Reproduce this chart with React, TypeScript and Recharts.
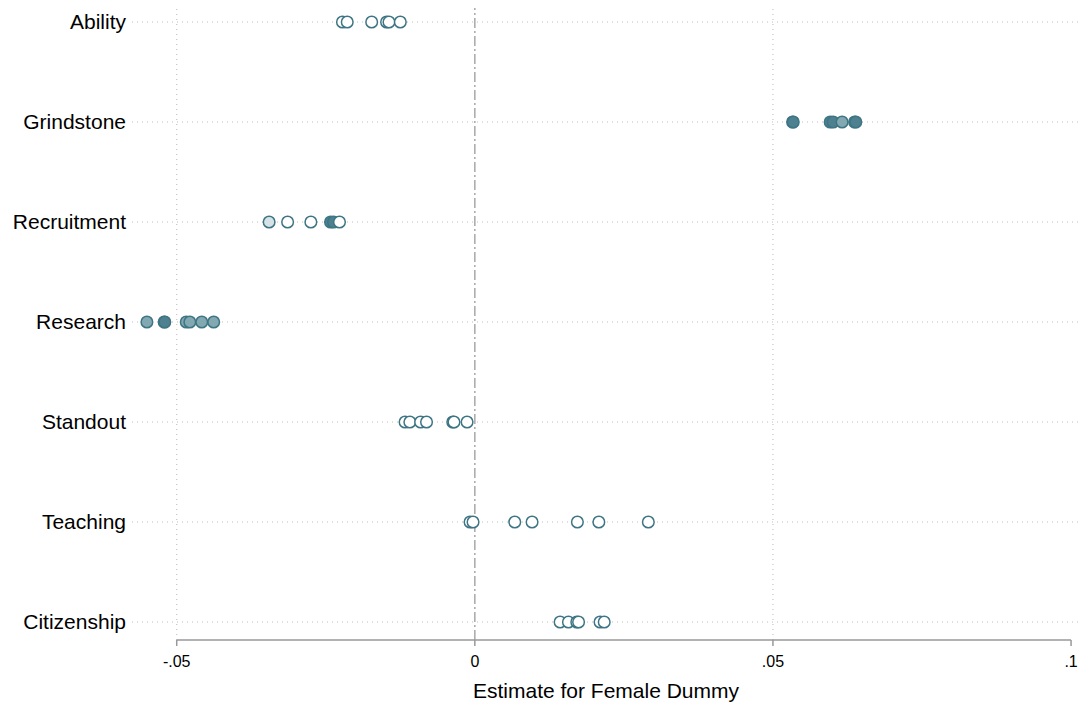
import { ReferenceLine, Scatter, ScatterChart, XAxis, YAxis } from "recharts";

const categories = ["Ability", "Grindstone", "Recruitment", "Research", "Standout", "Teaching", "Citizenship"];

// estimates per outcome, and shading level (0 = hollow .. 3 = darkest)
const ability = [-0.0222, -0.0214, -0.0173, -0.0148, -0.0144, -0.0125];
const abilityLevel = [0, 0, 0, 0, 0, 0];
const grindstone = [0.0533, 0.0534, 0.0596, 0.0601, 0.0616, 0.0637, 0.0639];
const grindstoneLevel = [3, 3, 3, 3, 2, 3, 3];
const recruitment = [-0.0345, -0.0314, -0.0275, -0.0242, -0.0237, -0.0227];
const recruitmentLevel = [1, 0, 0, 3, 3, 0];
const research = [-0.055, -0.0521, -0.052, -0.0484, -0.0478, -0.0458, -0.0438];
const researchLevel = [2, 3, 3, 2, 2, 2, 2];
const standout = [-0.0117, -0.0109, -0.0091, -0.0081, -0.0037, -0.0035, -0.0013];
const standoutLevel = [0, 0, 0, 0, 0, 0, 0];
const teaching = [-0.0008, -0.0003, 0.0067, 0.0096, 0.0172, 0.0208, 0.0291];
const teachingLevel = [0, 0, 0, 0, 0, 0, 0];
const citizenship = [0.0143, 0.0157, 0.0171, 0.0174, 0.021, 0.0217];
const citizenshipLevel = [0, 0, 0, 0, 0, 0];

const xTicks = [-0.05, 0, 0.05, 0.1];
const xTickLabels = ["-.05", "0", ".05", ".1"];
const xGrid = [-0.05, 0.05];
const levelFills = ["#ffffff", "#d5e3e7", "#82a8b1", "#4e8190"];

const estimates = [ability, grindstone, recruitment, research, standout, teaching, citizenship];
const levels = [abilityLevel, grindstoneLevel, recruitmentLevel, researchLevel, standoutLevel, teachingLevel, citizenshipLevel];
const yTicks = categories.map((_, i) => i);

const points = estimates.flatMap((vals, i) =>
  vals.map((x, j) => ({ x, y: categories.length - 1 - i, level: levels[i][j] })),
);

const FONT = "'Liberation Sans', Arial, Helvetica, sans-serif";
const Y_MIN = -0.18;

function Dot(props: any) {
  const { cx, cy, payload } = props;
  if (cx == null || cy == null) return null;
  return (
    <circle cx={cx} cy={cy} r={5.8} fill={levelFills[payload.level]} stroke="#3e7584" strokeWidth={1.5} />
  );
}

export default function App() {
  return (
    <div style={{ position: "absolute", left: 0, top: 0, background: "#fff", fontFamily: FONT }}>
      <ScatterChart width={1083} height={710} margin={{ top: 8, right: 3, bottom: 0, left: 0 }}>
        <XAxis
          type="number"
          dataKey="x"
          domain={[-0.0575, 0.1015]}
          ticks={xTicks}
          allowDataOverflow
          axisLine={false}
          tickLine={{ stroke: "#999", strokeWidth: 1.5 }}
          tickSize={6}
          tickMargin={10}
          tick={{ fontSize: 16, fill: "#000", fontFamily: FONT }}
          tickFormatter={(v: number) => xTickLabels[xTicks.indexOf(v)] ?? String(v)}
          height={70}
          label={{ value: "Estimate for Female Dummy", position: "insideBottom", offset: 12, fontSize: 21, fill: "#000", fontFamily: FONT }}
        />
        <YAxis
          type="number"
          dataKey="y"
          domain={[Y_MIN, 6.14]}
          ticks={yTicks}
          allowDataOverflow
          axisLine={false}
          tickLine={false}
          tickSize={0}
          tickMargin={6}
          width={132}
          tick={{ fontSize: 21, fill: "#000", fontFamily: FONT }}
          tickFormatter={(v: number) => categories[categories.length - 1 - v] ?? ""}
        />
        {yTicks.map((t) => (
          <ReferenceLine key={`h${t}`} y={t} stroke="#bdbdbd" strokeWidth={1.2} strokeDasharray="1 4" />
        ))}
        {xGrid.map((t) => (
          <ReferenceLine key={`v${t}`} x={t} stroke="#c4c4c4" strokeWidth={1.2} strokeDasharray="1 4" />
        ))}
        <ReferenceLine x={0} stroke="#a8a8a8" strokeWidth={1.5} strokeDasharray="10 3 2 3" />
        <ReferenceLine
          segment={[{ x: -0.05, y: Y_MIN }, { x: 0.1, y: Y_MIN }]}
          stroke="#999"
          strokeWidth={1.5}
          ifOverflow="visible"
        />
        <Scatter data={points} shape={<Dot />} isAnimationActive={false} />
      </ScatterChart>
    </div>
  );
}
